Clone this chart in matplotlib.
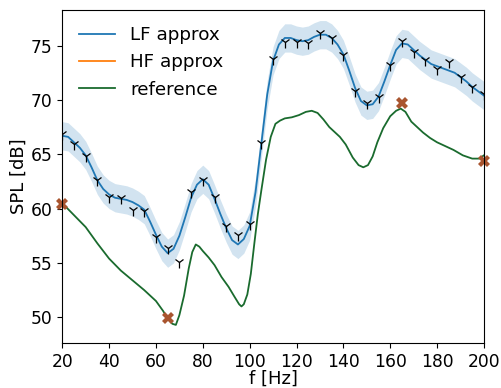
import numpy as np
import matplotlib
matplotlib.use("Agg")
import matplotlib.pyplot as plt

# LF samples (tri markers)
f_samp = np.arange(20, 201, 5)
spl_samp = [66.9, 65.9, 64.8, 62.6, 61.1, 61.0, 59.9, 59.8, 57.4, 56.4, 55.1,
            61.5, 62.6, 61.1, 58.4, 57.6, 58.6, 66.0, 73.8, 75.3, 75.3, 75.2,
            76.2, 75.7, 74.1, 70.8, 69.7, 70.3, 73.2, 75.4, 74.4, 73.7, 72.8,
            73.5, 72.1, 71.2, 70.5]

# LF approx mean
f_lf = [20, 22.5, 25, 27.5, 30, 32.5, 35, 37.5, 40, 42.5, 45, 47.5, 50, 52.5, 55,
        57.5, 60, 62.5, 65, 67.5, 70, 72.5, 75, 77.5, 80, 82.5, 85, 87.5, 90,
        92.5, 95, 97.5, 100, 102.5, 105, 107.5, 110, 112.5, 115, 117.5, 120,
        122.5, 125, 127.5, 130, 132.5, 135, 137.5, 140, 142.5, 145, 147.5, 150,
        152.5, 155, 157.5, 160, 162.5, 165, 167.5, 170, 172.5, 175, 177.5, 180,
        182.5, 185, 187.5, 190, 192.5, 195, 197.5, 200]
spl_lf = [66.7, 66.6, 66.1, 65.6, 64.9, 63.8, 62.6, 61.8, 61.3, 61.0, 60.9, 60.8,
          60.6, 60.3, 59.9, 58.8, 57.6, 56.5, 55.9, 56.3, 57.5, 59.2, 61.0, 62.2,
          62.7, 62.2, 60.9, 59.5, 58.2, 57.1, 56.7, 57.2, 58.4, 61.5, 66.0, 70.5,
          73.6, 75.1, 75.7, 75.7, 75.5, 75.4, 75.5, 75.8, 76.0, 76.0, 75.7, 75.1,
          74.2, 72.7, 71.1, 69.9, 69.5, 69.6, 70.3, 71.7, 73.2, 74.6, 75.2, 75.1,
          74.6, 74.1, 73.7, 73.3, 73.1, 72.9, 72.7, 72.5, 72.1, 71.7, 71.2, 70.8,
          70.4]
band_hw = 1.3

# HF samples
f_hf = [20, 65, 165, 200]
spl_hf = [60.4, 49.9, 69.7, 64.4]

# reference curve
f_ref = [20, 25, 30, 35, 40, 45, 50, 55, 60, 63, 65,
         67, 68.5, 70, 72, 74, 75.5, 77, 78.5, 80, 82.5, 85, 88, 91, 93.5, 95.5,
         96.5, 97.5, 99, 100.5, 102, 103.5, 105, 107, 109, 111, 113, 115, 118,
         121, 124, 126.5, 129, 131.5, 134, 136.5, 138.5, 141, 144, 146.5, 148.5,
         150.5, 152.5, 154.5, 157, 160, 162.5, 164.5, 166.5, 169, 171.5, 174,
         177, 180, 183, 187, 191, 195, 198, 200]
spl_ref = [60.5, 59.4, 58.3, 56.8, 55.4, 54.3, 53.4, 52.5, 51.5, 50.6, 49.9,
           49.4, 49.3, 50.2, 52.0, 54.5, 56.0, 56.7, 56.5, 56.1,
           55.5, 54.8, 53.7, 52.8, 51.9, 51.2, 51.0, 51.2, 52.1, 54.0, 56.8, 59.5,
           61.7, 64.5, 66.6, 67.8, 68.1, 68.3, 68.4, 68.6, 68.9, 69.0, 68.8, 68.2,
           67.5, 67.0, 66.6, 65.9, 64.7, 64.0, 63.8, 64.0, 64.8, 66.1, 67.4, 68.5,
           69.0, 69.2, 68.9, 68.0, 67.5, 67.0, 66.5, 66.1, 65.8, 65.4, 64.9, 64.6,
           64.6, 64.9]

plt.rcParams['font.size'] = 12.3
fig = plt.figure(figsize=(5.02, 3.88), dpi=100)
ax = fig.add_axes([0.124, 0.115, 0.84, 0.86])

lf = np.array(spl_lf)
ax.fill_between(f_lf, lf - band_hw, lf + band_hw, color='C0', alpha=0.2, lw=0)
ax.plot(f_lf, spl_lf, color='C0', lw=1.3, label='LF approx')
ax.plot(f_samp, spl_samp, ls='none', marker='1', color='k', ms=8, mew=0.9)
ax.plot([], [], color='C1', lw=1.3, label='HF approx')
ax.plot(f_ref, spl_ref, color='#1a6b2e', lw=1.3, label='reference')
ax.plot(f_hf, spl_hf, ls='none', marker='X', color='#a9552f', ms=8.5, mew=0, clip_on=False)

ax.set_xlim(20, 200)
ax.set_ylim(47.6, 78.3)
ax.set_xticks(np.arange(20, 201, 20))
ax.set_yticks(np.arange(50, 76, 5))
ax.set_xlabel('f [Hz]', fontsize=13, labelpad=-1)
ax.set_ylabel('SPL [dB]', fontsize=13, labelpad=2)
ax.legend(loc='upper left', frameon=False, fontsize=13.2, handlelength=2.0)

fig.savefig('out.png', dpi=100)
